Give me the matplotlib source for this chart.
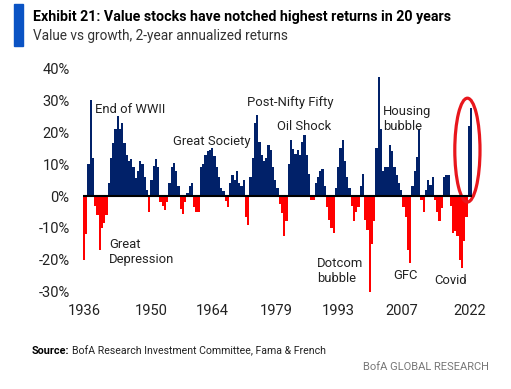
import numpy as np
import matplotlib.pyplot as plt
from matplotlib.patches import Ellipse, Rectangle

# value vs growth, 2-year annualized returns (%), read every half year from 1936
ret_1936_1947 = [-20, -12, 10, 30, 12, -3, -6, -17, -10, -8.5, -6, 4,
                 12, 16.5, 21, 25, 21, 23, 16.5, 13, 11, 11.5, 9, 5.5]
ret_1948_1960 = [8, 11, 10, 6, 2, -5, 5, 9.5, 11.5, 9, -2, -3, -4.4,
                 -2, 4, 9, 10.5, 8, 3, -4, -5.5, -2, 1, 3, 4]
ret_1960_1973 = [-3.5, -5, -5, 9, 10, 13, 14, 14.5, 15, 12.5, 9, 6, 2.4,
                 1.5, -1.5, -3.3, 4, 6.5, 5, 8, 4, 3, 5, -6.5, -9, 6]
ret_1973_1985 = [12, 23, 25.5, 17, 12.8, 11, 11.8, 16, 14.4, 9, 5, 2.4, -2.5,
                 -5.4, -12.5, -8, 10, 17.5, 14.9, 13.3, 14.4, 12.8, 16.8, 19, 13]
ret_1986_1998 = [7, -1.3, -1.3, 4, 6, 8, 8.6, 3, -3.3, -7.5, -10, -11.7, 2.4,
                 9, 15, 17.5, 11, 6, 2.5, -3, -8, -4.9, -3.3, 3, 7]
ret_1998_2011 = [-7.5, -10.6, -30, -15, -8, 15, 37.3, 21, 8, 9, 9, 16, 14,
                 9, 6.5, 4, 2, -3.3, -6.5, -17, -21, 3, 8, 12.3, 21, -1.3]
ret_2011_2022 = [-5, 2, 5, 3.5, 6, -1.3, -5, -8, -3.9, 6, 6.5, 6.5, -3,
                 -11.7, -11, -12.7, -20, -22.6, -14, -6.5, 22, 27.5]

start_year = 1936
step = 0.5

tick_years = [1936, 1951, 1964.5, 1978.7, 1992.5, 2006.7, 2021.8]
tick_labels = ['1936', '1950', '1964', '1979', '1993', '2007', '2022']
y_ticks = [40, 30, 20, 10, 0, -10, -20, -30]

# label text, x (year), y (%)
events = [
    ('End of WWII', 1938.4, 27.0),
    ('Great\nDepression', 1941.6, -17.5),
    ('Great Society', 1955.7, 17.0),
    ('Post-Nifty Fifty', 1972.3, 29.3),
    ('Oil Shock', 1978.8, 21.8),
    ('Housing\nbubble', 2002.4, 24.1),
    ('Dotcom\nbubble', 1987.8, -23.4),
    ('GFC', 2004.7, -24.8),
    ('Covid', 2013.8, -26.4),
]

NAVY = '#012169'
RED = '#ff0000'
TXT = '#222222'

plt.rcParams['font.family'] = ['Roboto', 'DejaVu Sans']

values = np.array(ret_1936_1947 + ret_1948_1960 + ret_1960_1973 + ret_1973_1985
                  + ret_1986_1998 + ret_1998_2011 + ret_2011_2022)
edges = start_year - step / 2 + step * np.arange(len(values) + 1)

fig = plt.figure(figsize=(5.11, 3.89), dpi=100)
ax = fig.add_axes([80 / 511, 1 - 300 / 389, 400 / 511, 240 / 389])

# positive and negative halves as filled steps so the bars join up
ax.stairs(np.clip(values, 0, None), edges, baseline=0, fill=True, color=NAVY, lw=0)
ax.stairs(np.clip(values, None, 0), edges, baseline=0, fill=True, color=RED, lw=0)
ax.hlines(0, edges[0], edges[-1], color='black', lw=1.5)

ax.set_xlim(start_year - 4 / 4.5, start_year + 396 / 4.5)
ax.set_ylim(-104 / 3.186, 136 / 3.186)
ax.set_xticks(tick_years)
ax.set_xticklabels(tick_labels)
ax.set_yticks(y_ticks)
ax.set_yticklabels([f'{t}%' for t in y_ticks])
ax.tick_params(axis='both', length=0, labelsize=10.5, colors=TXT)
ax.tick_params(axis='y', pad=7.5)
ax.tick_params(axis='x', pad=3)
for s in ax.spines.values():
    s.set_visible(False)

for label, x, y in events:
    ax.text(x, y, label, fontsize=9.4, color=TXT, ha='left', va='center',
            linespacing=1.2)

ax.add_patch(Ellipse((2021.2, 14.4), 5.6, 32.6, fill=False, edgecolor='#e8161c',
                     lw=2.3, clip_on=False))

# header
fig.patches.append(Rectangle((14 / 511, 1 - 46 / 389), 9 / 511, 42 / 389,
                             transform=fig.transFigure, color='#0a53c4'))
fig.text(33 / 511, 1 - 17 / 389, 'Exhibit 21: Value stocks have notched highest returns in 20 years',
         fontsize=10.3, fontweight='bold', color='black', va='center')
fig.text(33 / 511, 1 - 36 / 389, 'Value vs growth, 2-year annualized returns',
         fontsize=9.8, color='#333333', va='center')

# footer
fig.text(32 / 511, 1 - 351 / 389, 'Source:', fontsize=7.8, fontweight='bold', va='center')
fig.text(71.7 / 511, 1 - 351 / 389, 'BofA Research Investment Committee, Fama & French',
         fontsize=7.6, color='#222222', va='center')
fig.text(489 / 511, 1 - 366.7 / 389, 'BofA GLOBAL RESEARCH', fontsize=8,
         color='#777777', ha='right', va='center')

fig.savefig('out.png', dpi=100)
